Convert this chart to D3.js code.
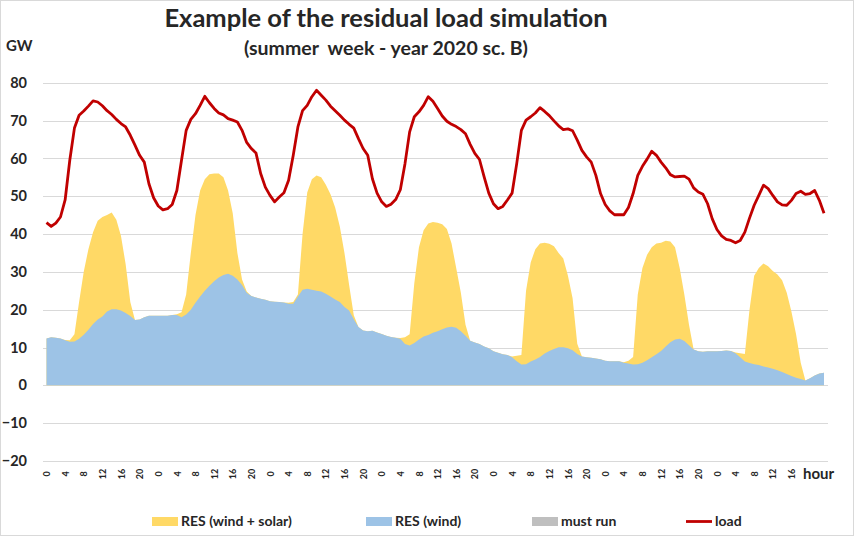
<!DOCTYPE html>
<html>
<head>
<meta charset="utf-8">
<script src="https://cdn.jsdelivr.net/npm/d3@7"></script>
<style>
  body { margin: 0; background: #fff; }
  svg { display: block; font-family: Lato, "Open Sans", sans-serif; }
</style>
</head>
<body>
<svg id="chart"></svg>
<script>
// one summer week, hourly values (GW), hour 0 .. 167
let load = [
  43.0, 42.0, 42.9, 44.5, 49.0, 59.5, 68.0, 71.4, 72.5, 73.8, 75.2, 74.9, 73.9, 72.6, 71.6, 70.3, 69.2, 68.3, 66.1, 63.5, 60.8, 59.0, 53.3, 49.6,
  47.4, 46.4, 46.7, 47.8, 51.5, 59.5, 67.4, 70.3, 71.8, 74.0, 76.4, 74.7, 73.2, 72.0, 71.5, 70.5, 70.1, 69.6, 67.4, 64.2, 62.6, 61.4, 56.0, 52.4,
  50.2, 48.5, 49.8, 50.9, 54.2, 60.8, 68.3, 72.6, 74.0, 76.3, 78.0, 76.7, 75.4, 73.8, 72.6, 71.4, 70.1, 69.0, 68.0, 65.2, 62.6, 60.8, 54.6, 50.8,
  48.5, 47.3, 47.9, 49.1, 51.7, 58.6, 67.0, 71.0, 72.3, 74.0, 76.3, 75.1, 73.2, 71.2, 69.8, 69.0, 68.4, 67.6, 66.5, 63.7, 61.3, 59.7, 55.1, 50.8,
  48.0, 46.7, 47.3, 49.0, 50.8, 58.6, 67.4, 70.1, 71.0, 72.0, 73.4, 72.4, 71.3, 69.9, 68.6, 67.6, 67.8, 67.3, 64.8, 62.1, 60.4, 59.0, 55.5, 50.7,
  47.8, 46.1, 45.1, 45.1, 45.1, 47.0, 50.7, 55.5, 57.9, 59.8, 61.9, 60.8, 59.0, 57.5, 55.7, 55.1, 55.2, 55.3, 54.5, 52.2, 51.1, 50.5, 48.0, 44.0,
  41.2, 39.5, 38.6, 38.3, 37.7, 38.3, 40.5, 44.2, 47.6, 50.2, 52.9, 52.0, 50.2, 48.5, 47.7, 47.6, 48.9, 50.7, 51.3, 50.5, 50.7, 51.5, 48.9, 45.5
];

let resWind = [
  12.4, 12.7, 12.6, 12.4, 11.9, 11.5, 11.6, 12.3, 13.4, 14.7, 16.2, 17.4, 18.2, 19.5, 20.1, 20.1, 19.8, 19.1, 18.3, 17.3, 17.4, 18.0, 18.4, 18.4,
  18.4, 18.4, 18.4, 18.6, 18.6, 18.0, 18.7, 20.0, 21.8, 23.5, 25.0, 26.3, 27.5, 28.5, 29.2, 29.5, 29.0, 28.0, 26.5, 24.5, 23.6, 23.2, 22.9, 22.6,
  22.2, 22.1, 22.0, 21.9, 21.6, 21.6, 23.5, 25.3, 25.5, 25.3, 25.0, 24.8, 24.2, 23.5, 22.7, 22.0, 20.7, 19.8, 17.5, 15.4, 14.5, 14.3, 14.4, 14.0,
  13.6, 13.1, 12.8, 12.6, 12.3, 10.9, 10.5, 11.2, 12.1, 12.9, 13.3, 13.9, 14.3, 14.8, 15.3, 15.5, 15.2, 14.3, 13.1, 11.8, 11.3, 10.9, 10.3, 9.8,
  9.0, 8.6, 8.2, 8.0, 7.4, 6.4, 5.5, 5.6, 6.3, 6.8, 7.5, 8.4, 9.1, 9.6, 10.1, 10.1, 9.8, 9.3, 8.3, 7.6, 7.4, 7.3, 7.1, 6.9,
  6.5, 6.4, 6.4, 6.4, 6.0, 5.8, 5.5, 5.6, 6.0, 6.6, 7.4, 8.2, 9.1, 10.3, 11.4, 12.1, 12.3, 11.7, 10.6, 9.5, 9.0, 8.9, 9.0, 9.0,
  9.0, 9.1, 9.2, 9.1, 8.5, 7.4, 6.3, 5.9, 5.6, 5.4, 5.0, 4.7, 4.4, 4.0, 3.5, 3.0, 2.5, 2.0, 1.7, 1.3, 1.9, 2.6, 3.1, 3.3
];

let resWindSolar = [
  12.4, 12.7, 12.6, 12.4, 12.0, 11.9, 13.5, 22.0, 30.0, 36.0, 40.5, 43.5, 44.5, 45.0, 45.7, 43.8, 39.5, 32.0, 22.0, 17.3, 17.4, 18.0, 18.4, 18.4,
  18.4, 18.4, 18.4, 18.6, 18.8, 19.3, 24.0, 35.0, 45.0, 51.5, 54.5, 55.8, 56.0, 56.0, 55.0, 51.5, 45.5, 35.0, 28.0, 24.8, 23.6, 23.2, 22.9, 22.6,
  22.2, 22.1, 22.0, 21.9, 21.8, 22.0, 24.0, 40.0, 51.0, 54.5, 55.5, 55.0, 53.0, 50.5, 47.0, 42.0, 35.0, 26.5, 18.5, 15.4, 14.5, 14.3, 14.4, 14.0,
  13.6, 13.1, 12.8, 12.6, 12.5, 12.7, 13.5, 27.0, 36.5, 41.0, 42.8, 43.2, 43.0, 42.6, 41.3, 37.5, 31.0, 24.5, 16.0, 11.8, 11.3, 10.9, 10.3, 9.8,
  9.0, 8.6, 8.2, 8.0, 7.6, 7.8, 8.0, 25.0, 32.5, 36.0, 37.5, 37.7, 37.4, 36.8, 35.0, 33.5, 29.0, 23.0, 11.0, 7.6, 7.4, 7.3, 7.1, 6.9,
  6.5, 6.4, 6.4, 6.4, 6.1, 6.5, 7.5, 24.0, 31.0, 34.5, 36.5, 37.5, 37.7, 38.2, 38.0, 36.5, 31.0, 24.0, 16.0, 9.5, 9.0, 8.9, 9.0, 9.0,
  9.0, 9.1, 9.2, 9.1, 8.7, 8.5, 8.3, 20.0, 29.0, 31.0, 32.2, 31.5, 30.2, 29.3, 27.8, 24.5, 19.5, 13.5, 6.0, 1.3, 1.9, 2.6, 3.1, 3.3
];

let tickHours = [0, 4, 8, 12, 16, 20];
let yTicks = [-20, -10, 0, 10, 20, 30, 40, 50, 60, 70, 80];
let legendNames = ["RES (wind + solar)", "RES (wind)", "must run", "load"];
let colors = { solar: "#FFD966", wind: "#9DC3E6", must: "#BFBFBF", load: "#C00000" };

const W = 855, H = 537;
const left = 43, right = 828;   // plot area (gridlines)
const txt = "#262626";

let svg = d3.select("#chart").attr("width", W).attr("height", H);

// outer frame
svg.append("rect")
  .attr("x", 0.5).attr("y", 0.5)
  .attr("width", W - 2).attr("height", H - 2)
  .attr("fill", "#fff").attr("stroke", "#D9D9D9");

let x = d3.scaleLinear().domain([0, load.length - 1]).range([46.5, 824]);
let y = d3.scaleLinear().domain([-20, 80]).range([461, 82.7]);

// gridlines
svg.append("g")
  .selectAll("line")
  .data(yTicks)
  .join("line")
  .attr("x1", left).attr("x2", right)
  .attr("y1", d => Math.round(y(d)) + 0.5)
  .attr("y2", d => Math.round(y(d)) + 0.5)
  .attr("stroke", "#D9D9D9");

// y axis labels
let yAxis = d3.axisLeft(y).tickValues(yTicks).tickSize(0).tickPadding(0);
let gy = svg.append("g").attr("transform", "translate(27,0)").call(yAxis);
gy.select(".domain").remove();
gy.selectAll("text")
  .attr("fill", txt)
  .style("font-size", "14.5px")
  .style("font-weight", "bold")
  .style("font-family", "Lato");

// areas: wind+solar behind, wind in front
let hours = d3.range(load.length);
let area = vals => d3.area()
  .x(i => x(i))
  .y0(y(0))
  .y1(i => y(vals[i]))(hours);

svg.append("path").attr("d", area(resWindSolar)).attr("fill", colors.solar);
svg.append("path").attr("d", area(resWind)).attr("fill", colors.wind);

// load line
svg.append("path")
  .attr("d", d3.line().x(i => x(i)).y(i => y(load[i]))(hours))
  .attr("fill", "none")
  .attr("stroke", colors.load)
  .attr("stroke-width", 2.8)
  .attr("stroke-linejoin", "round");

// x axis - every 4 hours, rotated labels (last "20" sits under the "hour" title)
let xTickVals = hours.filter(i => tickHours.includes(i % 24) && i <= 160);
let xAxis = d3.axisBottom(x).tickValues(xTickVals).tickFormat(i => i % 24).tickSize(0);
let gx = svg.append("g").attr("transform", "translate(0,474)").call(xAxis);
gx.select(".domain").remove();
gx.selectAll("text")
  .attr("y", 0).attr("dy", "0.35em")
  .attr("transform", "rotate(-90)")
  .attr("text-anchor", "middle")
  .attr("fill", txt)
  .style("font-size", "9px")
  .style("font-weight", "bold")
  .style("font-family", "Lato");

svg.append("text")
  .attr("x", 803).attr("y", 478.5)
  .attr("fill", txt)
  .style("font-size", "15px").style("font-weight", "bold")
  .text("hour");

// titles
svg.append("text")
  .attr("x", 386).attr("y", 27)
  .attr("text-anchor", "middle")
  .attr("fill", txt)
  .style("font-size", "25.5px").style("font-weight", "bold")
  .text("Example of the residual load simulation");

svg.append("text")
  .attr("x", 386).attr("y", 55)
  .attr("text-anchor", "middle")
  .attr("fill", txt)
  .style("font-size", "19.5px").style("font-weight", "bold")
  .style("white-space", "pre")
  .text("(summer  week - year 2020 sc. B)");

svg.append("text")
  .attr("x", 6).attr("y", 50.5)
  .attr("fill", txt)
  .style("font-size", "15px").style("font-weight", "bold")
  .text("GW");

// legend
let legendX = [152, 366, 532, 686];
let legendCol = [colors.solar, colors.wind, colors.must, colors.load];
let lg = svg.append("g")
  .selectAll("g")
  .data(legendNames)
  .join("g")
  .attr("transform", (d, i) => `translate(${legendX[i]},521.5)`);

lg.filter((d, i) => i < 3)
  .append("rect")
  .attr("x", 0).attr("y", -4.5)
  .attr("width", 26).attr("height", 9)
  .attr("fill", (d, i) => legendCol[i]);

lg.filter((d, i) => i === 3)
  .append("line")
  .attr("x1", 0).attr("x2", 26)
  .attr("stroke", colors.load).attr("stroke-width", 2.8);

lg.append("text")
  .attr("x", 29).attr("dy", "0.35em")
  .attr("fill", txt)
  .style("font-size", "14px").style("font-weight", "bold")
  .text(d => d);
</script>
</body>
</html>
